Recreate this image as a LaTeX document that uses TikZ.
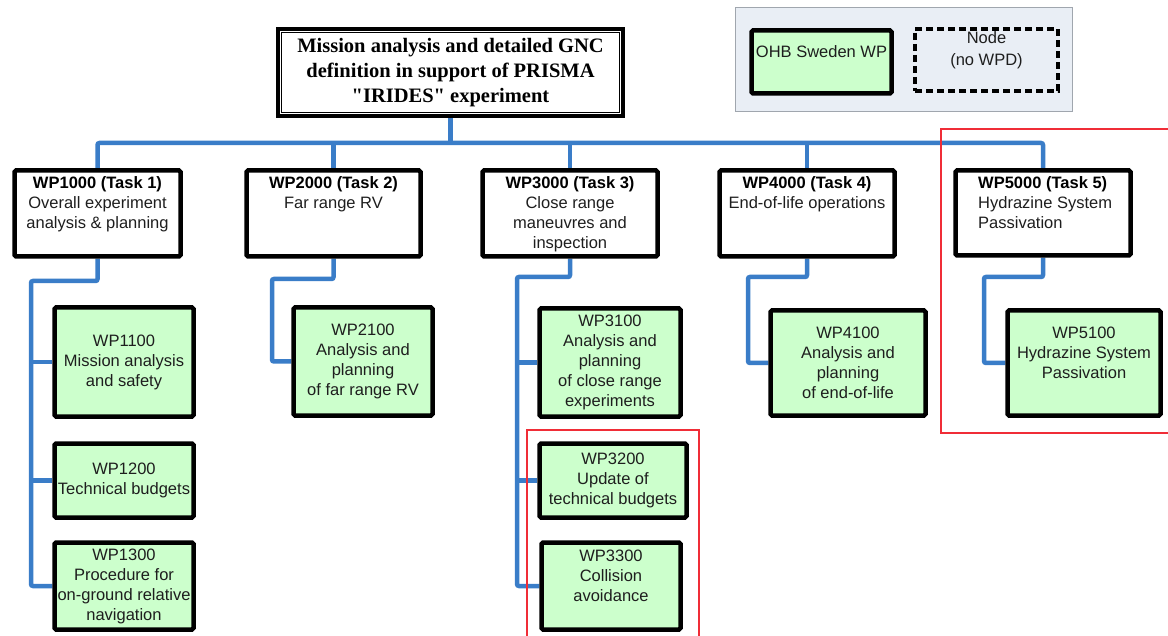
\documentclass[tikz,border=0pt]{standalone}
\usepackage{fontspec}
\setmainfont{Liberation Sans}
\newfontfamily\serifb{Liberation Serif}
\usetikzlibrary{backgrounds}
\definecolor{wpblue}{RGB}{58,125,200}
\definecolor{wpgreen}{RGB}{204,255,204}
\definecolor{legbg}{RGB}{233,238,245}
\definecolor{legline}{RGB}{160,166,174}
\definecolor{redbox}{RGB}{240,45,55}
\definecolor{txt}{RGB}{30,30,30}
\tikzset{
  conn/.style={draw=wpblue, line width=4.5pt, rounded corners=2pt},
  taskbox/.style={draw=black, line width=4.5pt, fill=white, rounded corners=1.5pt, inner sep=0pt},
  wpbox/.style={draw=black, line width=4.5pt, fill=wpgreen, rounded corners=1.5pt, inner sep=0pt,
    align=center, text=txt, font=\fontsize{16.5}{20}\selectfont},
  tasktext/.style={anchor=north, inner sep=0pt, align=center, text=txt, font=\fontsize{16.5}{20}\selectfont},
  redframe/.style={draw=redbox, line width=1.3pt},
}
\newcommand{\ttl}[1]{\textcolor{black}{\bfseries #1}}
\begin{document}
\begin{tikzpicture}[x=1pt,y=-1pt]
\useasboundingbox (0,0) rectangle (1168,636);
\begin{pgfonlayer}{background}
\fill[white] (0,0) rectangle (1168,636);
\end{pgfonlayer}

% legend
\node[draw=legline, line width=1pt, fill=legbg, minimum width=337, minimum height=104, inner sep=0pt] (legend) at (903.5,60) {};
\node[wpbox, minimum width=140, minimum height=63] (legwp) at (821.5,62) {OHB Sweden WP\\ ~};
\node[draw=black, line width=4pt, dash pattern=on 7pt off 4pt, minimum width=143, minimum height=62, inner sep=0pt,
  align=center, text=txt, font=\fontsize{16.5}{22}\selectfont] (legnode) at (986.5,60) {Node\\(no WPD)\\ ~};

% top box
\node[draw=black, line width=3.5pt, fill=white, minimum width=345, minimum height=87, inner sep=0pt, align=center,
  font=\serifb\bfseries\fontsize{20.5}{25}\selectfont] (top) at (450.5,72.5)
  {Mission analysis and detailed GNC\\definition in support of PRISMA\\"IRIDES" experiment};
\draw[line width=1.4pt] ([shift={(5,5)}]top.north west) rectangle ([shift={(-5,-5)}]top.south east);

% task boxes
\node[taskbox, minimum width=166, minimum height=86] (wp1000) at (97.5,213.5) {};
\node[taskbox, minimum width=174, minimum height=86] (wp2000) at (333.5,213.5) {};
\node[taskbox, minimum width=175, minimum height=86] (wp3000) at (570,213.5) {};
\node[taskbox, minimum width=175, minimum height=86] (wp4000) at (807,213.5) {};
\node[taskbox, minimum width=175, minimum height=85] (wp5000) at (1043,213) {};

\node[tasktext] (t1000) at (97.5,176.5) {\ttl{WP1000 (Task 1)}\\Overall experiment\\analysis \& planning};
\node[tasktext] (t2000) at (333.5,176.5) {\ttl{WP2000 (Task 2)}\\Far range RV};
\node[tasktext] (t3000) at (570,176.5) {\ttl{WP3000 (Task 3)}\\Close range\\maneuvres and\\inspection};
\node[tasktext] (t4000) at (807,176.5) {\ttl{WP4000 (Task 4)}\\End-of-life operations};
\node[tasktext, anchor=north west, align=left] (t5000) at (978,176.5) {\ttl{WP5000 (Task 5)}\\Hydrazine System\\Passivation};

% work packages
\node[wpbox, minimum width=139, minimum height=109] (wp1100) at (124,362) {WP1100\\Mission analysis\\and safety};
\node[wpbox, minimum width=139, minimum height=74] (wp1200) at (124,480.5) {WP1200\\Technical budgets};
\node[wpbox, minimum width=139, minimum height=87] (wp1300) at (124,586) {WP1300\\Procedure for\\on-ground relative\\navigation};
\node[wpbox, minimum width=139, minimum height=108] (wp2100) at (363,361.5) {WP2100\\Analysis and\\planning\\of far range RV};
\node[wpbox, minimum width=141, minimum height=108] (wp3100) at (610,362.5) {WP3100\\Analysis and\\planning\\of close range\\experiments};
\node[wpbox, minimum width=147, minimum height=74] (wp3200) at (613,480.5) {WP3200\\Update of\\technical budgets};
\node[wpbox, minimum width=139, minimum height=87] (wp3300) at (611,586) {WP3300\\Collision\\avoidance\\ ~};
\node[wpbox, minimum width=155, minimum height=105] (wp4100) at (848,363) {WP4100\\Analysis and\\planning\\of end-of-life};
\node[wpbox, minimum width=153, minimum height=105] (wp5100) at (1084,363) {WP5100\\Hydrazine System\\Passivation\\ ~};

% connectors
\coordinate (bus) at (0,143);
\coordinate (c1) at (31,281);
\coordinate (c2) at (272,279);
\coordinate (c3) at (517,277);
\coordinate (c4) at (748,277);
\coordinate (c5) at (984,277);
\begin{pgfonlayer}{background}
\draw[conn] (top.south) -- (top.south |- bus);
\draw[conn] (wp1000.north) -- (wp1000.north |- bus) -- (wp5000.north |- bus) -- (wp5000.north);
\draw[conn] (wp2000.north) -- (wp2000.north |- bus);
\draw[conn] (wp3000.north) -- (wp3000.north |- bus);
\draw[conn] (wp4000.north) -- (wp4000.north |- bus);

\draw[conn] (wp1000.south) |- (c1) |- (wp1300.west);
\draw[conn] (wp1100.west) -- (wp1100.west -| c1);
\draw[conn] (wp1200.west) -- (wp1200.west -| c1);
\draw[conn] (wp2000.south) |- (c2) |- (wp2100.west);
\draw[conn] (wp3000.south) |- (c3) |- (wp3300.west);
\draw[conn] (wp3100.west) -- (wp3100.west -| c3);
\draw[conn] (wp3200.west) -- (wp3200.west -| c3);
\draw[conn] (wp4000.south) |- (c4) |- (wp4100.west);
\draw[conn] (wp5000.south) |- (c5) |- (wp5100.west);
\end{pgfonlayer}

% red frames
\draw[redframe] (941,129) rectangle (1175,433);
\draw[redframe] (527,430) rectangle (699,645);
\end{tikzpicture}
\end{document}
